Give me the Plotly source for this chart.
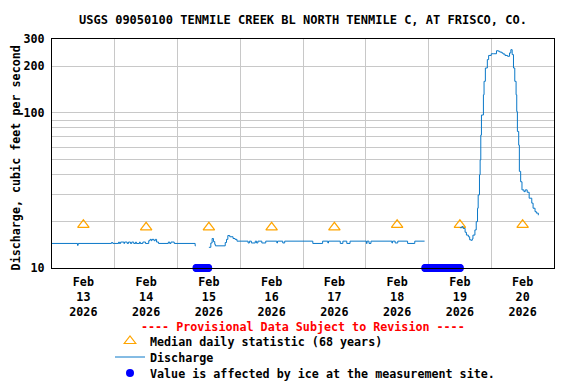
import math
import pandas as pd
import plotly.graph_objects as go

# ---------------- data ----------------
TITLE = "USGS 09050100 TENMILE CREEK BL NORTH TENMILE C, AT FRISCO, CO."
Y_TITLE = "Discharge, cubic feet per second"
PROVISIONAL = "---- Provisional Data Subject to Revision ----"

# Median daily statistic (68 years), plotted at noon of each day
median_dates = ["2026-02-13 12:00", "2026-02-14 12:00", "2026-02-15 12:00", "2026-02-16 12:00",
                "2026-02-17 12:00", "2026-02-18 12:00", "2026-02-19 12:00", "2026-02-20 12:00"]
median_cfs = [19.0, 18.3, 18.3, 18.3, 18.3, 19.0, 19.0, 19.0]

# Discharge (cfs); None marks the ice-affected gaps
q_time = [
    "2026-02-13 00:00", "2026-02-13 09:45", "2026-02-13 10:00", "2026-02-13 22:45", "2026-02-13 23:15",
    "2026-02-14 01:30", "2026-02-14 01:45", "2026-02-14 02:15", "2026-02-14 03:30", "2026-02-14 03:45",
    "2026-02-14 04:45", "2026-02-14 05:15", "2026-02-14 06:00", "2026-02-14 06:30", "2026-02-14 07:15",
    "2026-02-14 08:00", "2026-02-14 08:15", "2026-02-14 09:30", "2026-02-14 09:45", "2026-02-14 10:45",
    "2026-02-14 11:45", "2026-02-14 13:00", "2026-02-14 13:30", "2026-02-14 14:00", "2026-02-14 14:15",
    "2026-02-14 15:00", "2026-02-14 15:30", "2026-02-14 16:00", "2026-02-14 16:45", "2026-02-14 20:30",
    "2026-02-14 21:00", "2026-02-14 21:30", "2026-02-14 22:45", "2026-02-15 06:45", "2026-02-15 07:00",
    "2026-02-15 09:30",
    "2026-02-15 12:00", "2026-02-15 12:45", "2026-02-15 13:15", "2026-02-15 13:45", "2026-02-15 14:15",
    "2026-02-15 14:30", "2026-02-15 18:15", "2026-02-15 18:45", "2026-02-15 19:15", "2026-02-15 20:00",
    "2026-02-15 21:15", "2026-02-15 22:00", "2026-02-15 22:45", "2026-02-16 03:00", "2026-02-16 03:30",
    "2026-02-16 04:15", "2026-02-16 05:45", "2026-02-16 06:15", "2026-02-16 06:45", "2026-02-16 08:15",
    "2026-02-16 09:45", "2026-02-16 14:00", "2026-02-16 14:15", "2026-02-16 16:15", "2026-02-16 17:00",
    "2026-02-17 03:45", "2026-02-17 07:30", "2026-02-17 09:30", "2026-02-17 09:45", "2026-02-17 14:15",
    "2026-02-17 15:15", "2026-02-17 16:45", "2026-02-17 18:00", "2026-02-18 00:15", "2026-02-18 00:30",
    "2026-02-18 01:15", "2026-02-18 02:00", "2026-02-18 10:00", "2026-02-18 10:15", "2026-02-18 11:15",
    "2026-02-18 12:15", "2026-02-18 16:00", "2026-02-18 18:45", "2026-02-18 22:30",
    "2026-02-19 06:00",
    "2026-02-19 12:00", "2026-02-19 12:45", "2026-02-19 13:15", "2026-02-19 14:00", "2026-02-19 14:30",
    "2026-02-19 15:15", "2026-02-19 15:45", "2026-02-19 16:15", "2026-02-19 16:45", "2026-02-19 17:00",
    "2026-02-19 17:45", "2026-02-19 18:15", "2026-02-19 18:45", "2026-02-19 19:00", "2026-02-19 19:30",
    "2026-02-19 19:45", "2026-02-19 20:00", "2026-02-19 20:15", "2026-02-19 21:00", "2026-02-19 21:15",
    "2026-02-19 21:45", "2026-02-19 22:30", "2026-02-19 23:00", "2026-02-20 00:00", "2026-02-20 00:45",
    "2026-02-20 02:00", "2026-02-20 02:45", "2026-02-20 03:15", "2026-02-20 04:00", "2026-02-20 04:30",
    "2026-02-20 05:15", "2026-02-20 06:15", "2026-02-20 07:00", "2026-02-20 07:30", "2026-02-20 08:00",
    "2026-02-20 08:30", "2026-02-20 09:00", "2026-02-20 09:30", "2026-02-20 09:45", "2026-02-20 10:00",
    "2026-02-20 10:30", "2026-02-20 10:45", "2026-02-20 11:15", "2026-02-20 11:45", "2026-02-20 12:30",
    "2026-02-20 13:00", "2026-02-20 13:45", "2026-02-20 14:30", "2026-02-20 15:30", "2026-02-20 16:00",
    "2026-02-20 16:45", "2026-02-20 17:15", "2026-02-20 18:00",
]
q_cfs = [
    14.4, 14.0, 14.4, 14.6, 14.4,
    14.7, 14.4, 14.7, 14.4, 14.7,
    14.4, 14.7, 14.4, 14.7, 14.4,
    14.7, 14.4, 14.7, 14.4, 14.7,
    14.4, 15.0, 15.3, 15.0, 15.3,
    15.0, 15.3, 14.7, 14.4, 14.7,
    14.4, 14.7, 14.4, 13.9, 13.9,
    None,
    13.6, 14.5, 15.5, 14.8, 14.2,
    13.9, 14.6, 15.3, 16.2, 15.9,
    15.5, 15.3, 14.9, 14.5, 14.9,
    14.5, 14.9, 14.5, 14.9, 14.5,
    14.9, 14.5, 14.9, 14.5, 14.9,
    14.4, 14.9, 14.5, 14.9, 14.4,
    14.9, 14.4, 14.9, 14.4, 14.9,
    14.4, 14.9, 14.5, 14.9, 14.5,
    14.9, 14.4, 14.9, 14.9,
    None,
    18.2, 18.5, 18.0, 17.0, 16.3,
    15.9, 15.2, 15.1, 15.4, 16.3,
    17.6, 19.9, 24.3, 29.6, 39.9,
    49.8, 72.0, 97.0, 131.0, 160.0,
    195.0, 221.0, 235.0, 241.0, 241.0,
    252.0, 250.0, 247.0, 244.0, 240.0,
    235.0, 232.0, 244.0, 256.0, 238.0,
    195.0, 160.0, 131.0, 102.0, 76.0,
    62.0, 42.0, 36.0, 31.9, 31.1,
    31.9, 30.8, 28.2, 26.2, 24.3,
    23.1, 22.6, 21.9,
]

# Periods in which the value is affected by ice (15-minute records)
ice_periods = [("2026-02-15 07:15", "2026-02-15 11:45"),
               ("2026-02-18 22:45", "2026-02-19 12:00")]
ice_time = []
for start, end in ice_periods:
    ice_time += list(pd.date_range(start, end, freq="15min"))
ice_cfs = [10.0] * len(ice_time)   # plotted on the axis floor

y_grid_vals = [10, 20, 30, 40, 50, 60, 70, 80, 90, 100, 200, 300]
y_grid_text = ["10", "", "", "", "", "", "", "", "", "100", "200", "300"]

x_start = "2026-02-13 00:00"
x_end = "2026-02-21 00:00"

# ---------------- figure ----------------
FONT = "DejaVu Sans Mono"
FS = 11.7
OFF = 8                       # the page body margin shifts the figure by this much
W, H = 576 - OFF, 384 - OFF   # figure size so it fits the window


def fy(y_page):               # page y -> figure y
    return y_page - OFF


PLOT_L, PLOT_R, PLOT_T, PLOT_B = 51.5 - OFF, 554 - OFF, fy(39.3), fy(268)
PH, PW = PLOT_B - PLOT_T, PLOT_R - PLOT_L
LEG_X = 102

fig = go.Figure()
fig.add_trace(go.Scatter(
    x=median_dates, y=median_cfs, mode="markers",
    name="Median daily statistic (68 years)", legend="legend",
    marker=dict(symbol="triangle-up-open", size=10, color="#ffa500", line=dict(width=1.2, color="#ffa500")),
))
fig.add_trace(go.Scatter(
    x=q_time, y=q_cfs, mode="lines", name="Discharge", legend="legend2",
    line=dict(color="#0a78c8", width=1, shape="hv"), connectgaps=False,
))
fig.add_trace(go.Scatter(
    x=ice_time, y=ice_cfs, mode="markers", legend="legend3",
    name="Value is affected by ice at the measurement site.",
    marker=dict(symbol="circle", size=8, color="#0000ff"), cliponaxis=False,
))


def leg(ycenter_page):
    return dict(xref="container", yref="container", x=LEG_X / W, y=1 - fy(ycenter_page) / H,
                xanchor="left", yanchor="middle", bgcolor="rgba(0,0,0,0)",
                font=dict(family=FONT, size=FS, weight="bold", color="black"),
                itemwidth=30)


fig.update_layout(
    width=W, height=H,
    margin=dict(l=PLOT_L, r=W - PLOT_R, t=PLOT_T, b=H - PLOT_B, autoexpand=False),
    paper_bgcolor="white", plot_bgcolor="white",
    font=dict(family=FONT, size=FS, color="black", weight="bold"),
    title=dict(text=TITLE, x=0.5, xref="paper", xanchor="center",
               y=1 - fy(19.5) / H, yref="container", yanchor="middle",
               font=dict(family=FONT, size=12, weight="bold", color="black")),
    showlegend=True,
    legend=leg(341), legend2=leg(357), legend3=leg(373),
    annotations=[
        dict(text=PROVISIONAL, x=0.5, xref="paper",
             y=(PLOT_B - fy(327)) / PH, yref="paper",
             xanchor="center", yanchor="middle", showarrow=False,
             font=dict(family=FONT, size=FS, weight="bold", color="#ff0000")),
        dict(text=Y_TITLE, textangle=-90, x=(15.5 - OFF - PLOT_L) / PW, xref="paper",
             y=(PLOT_B - fy(158.5)) / PH, yref="paper",
             xanchor="center", yanchor="middle", showarrow=False,
             font=dict(family=FONT, size=FS, weight="bold", color="black")),
    ],
)

fig.update_xaxes(
    type="date", range=[x_start, x_end], automargin=False,
    tick0=x_start, dtick=86400000, ticklabelmode="period",
    tickformat="%b<br>%d<br>%Y", ticks="", ticklabelstandoff=3,
    showgrid=True, gridcolor="#c8c8c8", gridwidth=1,
    showline=True, mirror=True, linecolor="black", linewidth=1, layer="above traces",
    zeroline=False, tickfont=dict(family=FONT, size=FS, weight="bold"),
)
fig.update_yaxes(
    type="log", range=[1, math.log10(300)], automargin=False,
    tickmode="array", tickvals=y_grid_vals, ticktext=y_grid_text,
    ticks="", ticklabelstandoff=4,
    showgrid=True, gridcolor="#c8c8c8", gridwidth=1,
    showline=True, mirror=True, linecolor="black", linewidth=1,
    zeroline=False, tickfont=dict(family=FONT, size=FS, weight="bold"),
)

fig.write_html("out.html")
